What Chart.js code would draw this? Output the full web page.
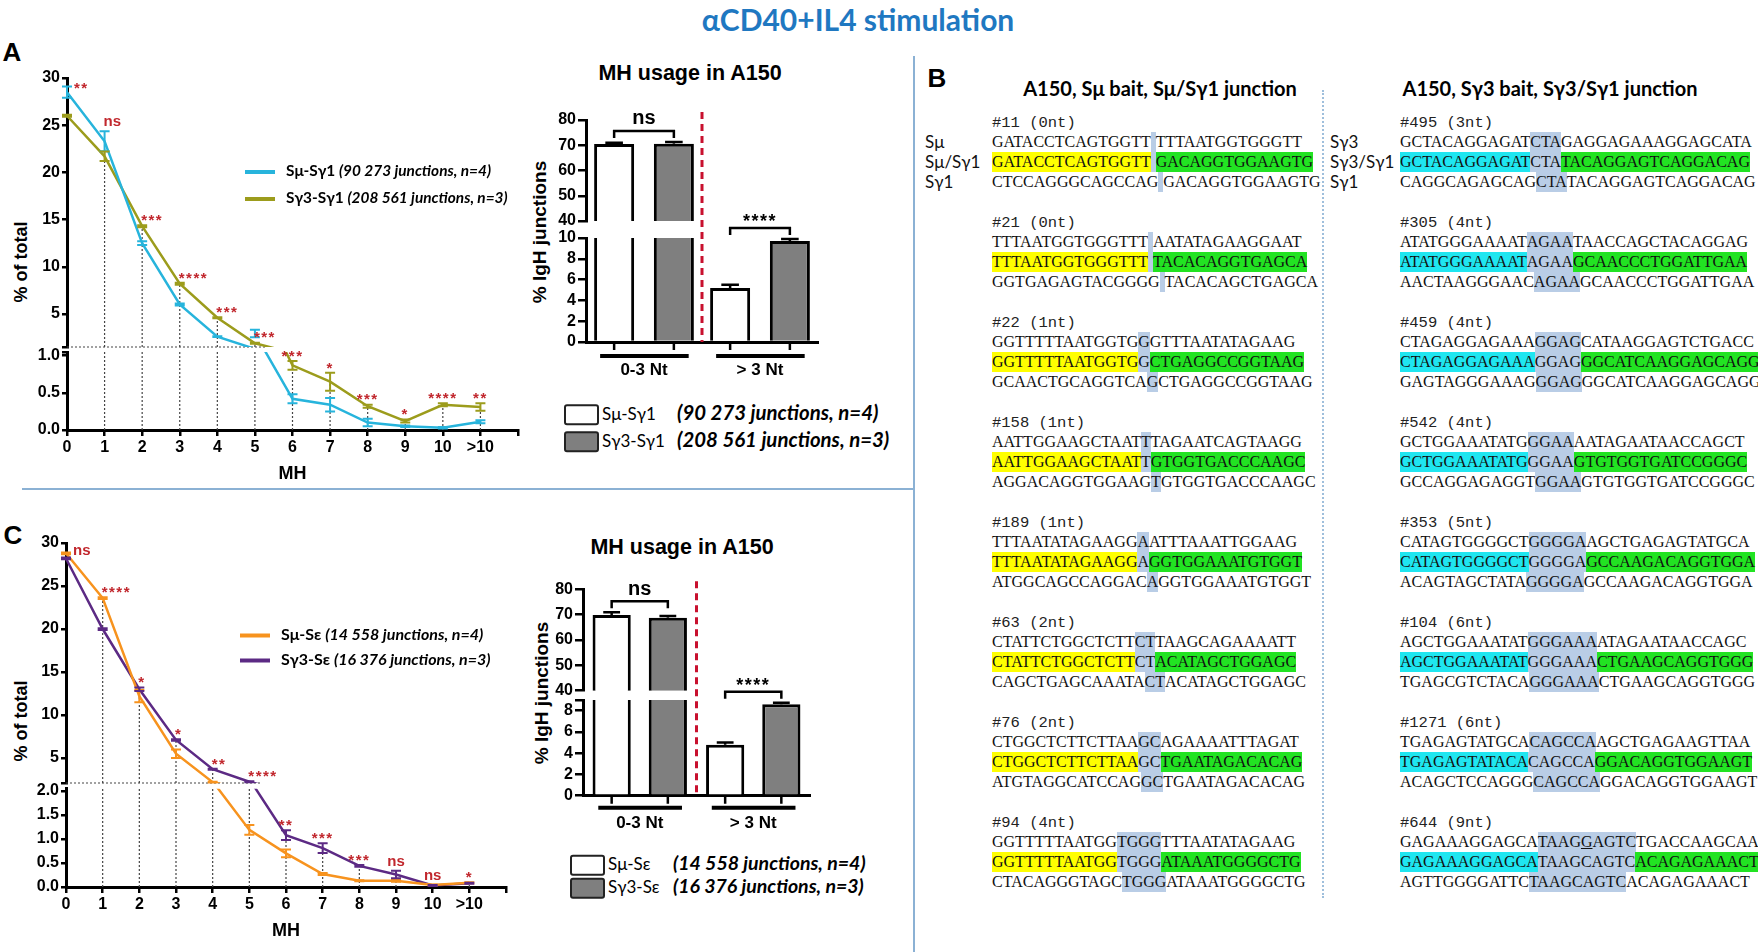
<!DOCTYPE html>
<html>
<head>
<meta charset="utf-8">
<title>MH usage in A150</title>
<script src="https://cdn.jsdelivr.net/npm/chart.js@4.4.1/dist/chart.umd.min.js"></script>
<style>
  body { margin: 0; background: #fff; }
  #page { position: relative; width: 1758px; height: 952px; overflow: hidden; font-family: 'Liberation Sans', Arial, sans-serif; color: #000; }
  .t { position: absolute; white-space: nowrap; transform: translate(-50%, -50%); }
  .tl { position: absolute; white-space: nowrap; transform: translate(0, -50%); }
  .rot { transform: translate(-50%, -50%) rotate(-90deg); }
  canvas { position: absolute; }
  .rule { position: absolute; background: #8bb1d4; }
  .blk { position: absolute; }
  .hd { font-family: 'Liberation Mono', monospace; font-size: 15.5px; height: 18px; line-height: 18px; color: #222; white-space: nowrap; }
  .rw { position: relative; height: 20px; line-height: 20px; font-family: 'Liberation Serif', serif; font-size: 16px; color: #111; white-space: nowrap; }
  .rw > span { display: inline-block; height: 20px; vertical-align: top; }
  .lab { position: absolute; top: 0; font-family: Lato, sans-serif; font-size: 17px; line-height: 20px; color: #111; }
  .mh { background: #b9cde6; }
  .mh0 { width: 5px; }
  .gr { background: #22e322; }
  .leg { font-family: Lato, sans-serif; font-weight: bold; }
  .sw { display: inline-block; vertical-align: middle; }
</style>
</head>
<body>
<div id="page">
  <div class="t" style="left:858px;top:19px;font-family:Lato,sans-serif;font-weight:bold;font-size:30px;color:#1f78c1">αCD40+IL4 stimulation</div>
  <div class="t" style="left:12px;top:52px;font-weight:bold;font-size:26px">A</div>
  <div class="t" style="left:937px;top:78px;font-weight:bold;font-size:26px">B</div>
  <div class="t" style="left:13px;top:535px;font-weight:bold;font-size:26px">C</div>
  <div class="t" style="left:690px;top:73px;font-weight:bold;font-size:21.5px">MH usage in A150</div>
  <div class="t" style="left:682px;top:547px;font-weight:bold;font-size:21.5px">MH usage in A150</div>
  <div class="t rot" style="left:21px;top:262px;font-weight:bold;font-size:18px">% of total</div>
  <div class="t rot" style="left:21px;top:721px;font-weight:bold;font-size:18px">% of total</div>
  <div class="t rot" style="left:540px;top:232px;font-weight:bold;font-size:19px">% IgH junctions</div>
  <div class="t rot" style="left:542px;top:693px;font-weight:bold;font-size:19px">% IgH junctions</div>
  <div class="t" style="left:1160px;top:88px;font-family:Lato,sans-serif;font-weight:bold;font-size:20px">A150, Sμ bait, Sμ/Sγ1 junction</div>
  <div class="t" style="left:1550px;top:88px;font-family:Lato,sans-serif;font-weight:bold;font-size:20px">A150, Sγ3 bait, Sγ3/Sγ1 junction</div>

  <div class="rule" style="left:22px;top:488px;width:892px;height:2px"></div>
  <div class="rule" style="left:913px;top:56px;width:2px;height:896px"></div>
  <div style="position:absolute;left:1322px;top:90px;height:808px;border-left:2px dotted #9fbfdc"></div>

  <canvas id="lineA" width="540" height="430" style="left:0;top:60px"></canvas>
  <canvas id="barA" width="320" height="290" style="left:520px;top:100px"></canvas>
  <canvas id="lineC" width="540" height="430" style="left:0;top:520px"></canvas>
  <canvas id="barC" width="310" height="270" style="left:520px;top:570px"></canvas>
</div>
<script>
// x categories (MH length in nt); the trailing '' is the axis end tick
const mhLabels = ['0', '1', '2', '3', '4', '5', '6', '7', '8', '9', '10', '>10', ''];

// Panel A: % of total junctions, Sμ-Sγ1 vs Sγ3-Sγ1
const muG1 = [28.5, 23.3, 12.5, 6.0, 2.6, 1.3, 0.42, 0.34, 0.10, 0.05, 0.03, 0.11];
const muG1Sem = [0.6, 1.05, 0.2, 0.1, 0.05, 0.05, 0.06, 0.09, 0.05, 0.01, 0.01, 0.02];
const g3G1 = [26.0, 21.7, 14.3, 8.2, 4.6, 1.9, 0.87, 0.65, 0.32, 0.12, 0.34, 0.31];
const g3G1Sem = [0.1, 0.5, 0.1, 0.1, 0.05, 0.05, 0.06, 0.12, 0.02, 0.02, 0.02, 0.05];
const sigA = ['**', 'ns', '***', '****', '***', '***', '***', '*', '***', '*', '****', '**'];

// Panel C: % of total junctions, Sμ-Sε vs Sγ3-Sε
const muE = [28.8, 23.6, 12.2, 5.5, 2.2, 1.19, 0.70, 0.27, 0.13, 0.13, 0.04, 0.09];
const muESem = [0.1, 0.1, 0.7, 0.5, 0.05, 0.1, 0.08, 0.02, 0.01, 0.02, 0.01, 0.01];
const g3E = [28.2, 20.0, 13.0, 7.1, 3.7, 2.25, 1.08, 0.81, 0.44, 0.26, 0.03, 0.08];
const g3ESem = [0.1, 0.1, 0.2, 0.1, 0.05, 0.05, 0.1, 0.1, 0.02, 0.08, 0.01, 0.01];
const sigC = ['ns', '****', '*', '*', '**', '****', '**', '***', '***', 'ns', 'ns', '*'];

// MH usage bars
const barLabels = ['0-3 Nt', '> 3 Nt'];
const barMuG1 = [70.5, 5.2];
const barMuG1Sem = [0.5, 0.3];
const barG3G1 = [70.6, 9.7];
const barG3G1Sem = [0.7, 0.2];
const sigBarA = ['ns', '****'];
const barMuE = [69.9, 4.8];
const barMuESem = [1.0, 0.2];
const barG3E = [68.8, 8.6];
const barG3ESem = [0.7, 0.15];
const sigBarC = ['ns', '****'];

// tick labels
const lineTicksTop = [5, 10, 15, 20, 25, 30];
const lineTicksLowA = [0, 0.5, 1.0];
const lineTicksLowC = [0, 0.5, 1.0, 1.5, 2.0];
const barTicksTop = [40, 50, 60, 70, 80];
const barTicksLowA = [0, 2, 4, 6, 8, 10];
const barTicksLowC = [0, 2, 4, 6, 8];

// legends
const legendG1 = [['Sμ-Sγ1', '(90 273 junctions, n=4)'], ['Sγ3-Sγ1', '(208 561 junctions, n=3)']];
const legendE = [['Sμ-Sε', '(14 558 junctions, n=4)'], ['Sγ3-Sε', '(16 376 junctions, n=3)']];

// Panel B junction sequences: left | microhomology | right
const muRowNames = ['Sμ', 'Sμ/Sγ1', 'Sγ1'];
const g3RowNames = ['Sγ3', 'Sγ3/Sγ1', 'Sγ1'];
const muJunctions = [
  ['#11 (0nt)', 'GATACCTCAGTGGTT||TTTAATGGTGGGTT', 'GATACCTCAGTGGTT||GACAGGTGGAAGTG', 'CTCCAGGGCAGCCAG||GACAGGTGGAAGTG'],
  ['#21 (0nt)', 'TTTAATGGTGGGTTT||AATATAGAAGGAAT', 'TTTAATGGTGGGTTT||TACACAGGTGAGCA', 'GGTGAGAGTACGGGG||TACACAGCTGAGCA'],
  ['#22 (1nt)', 'GGTTTTTAATGGTG|G|GTTTAATATAGAAG', 'GGTTTTTAATGGTG|G|CTGAGGCCGGTAAG', 'GCAACTGCAGGTCA|G|CTGAGGCCGGTAAG'],
  ['#158 (1nt)', 'AATTGGAAGCTAAT|T|TAGAATCAGTAAGG', 'AATTGGAAGCTAAT|T|GTGGTGACCCAAGC', 'AGGACAGGTGGAAG|T|GTGGTGACCCAAGC'],
  ['#189 (1nt)', 'TTTAATATAGAAGG|A|ATTTAAATTGGAAG', 'TTTAATATAGAAGG|A|GGTGGAAATGTGGT', 'ATGGCAGCCAGGAC|A|GGTGGAAATGTGGT'],
  ['#63 (2nt)', 'CTATTCTGGCTCTT|CT|TAAGCAGAAAATT', 'CTATTCTGGCTCTT|CT|ACATAGCTGGAGC', 'CAGCTGAGCAAATA|CT|ACATAGCTGGAGC'],
  ['#76 (2nt)', 'CTGGCTCTTCTTAA|GC|AGAAAATTTAGAT', 'CTGGCTCTTCTTAA|GC|TGAATAGACACAG', 'ATGTAGGCATCCAG|GC|TGAATAGACACAG'],
  ['#94 (4nt)', 'GGTTTTTAATGG|TGGG|TTTAATATAGAAG', 'GGTTTTTAATGG|TGGG|ATAAATGGGGCTG', 'CTACAGGGTAGC|TGGG|ATAAATGGGGCTG']
];
const g3Junctions = [
  ['#495 (3nt)', 'GCTACAGGAGAT|CTA|GAGGAGAAAGGAGCATA', 'GCTACAGGAGAT|CTA|TACAGGAGTCAGGACAG', 'CAGGCAGAGCAG|CTA|TACAGGAGTCAGGACAG'],
  ['#305 (4nt)', 'ATATGGGAAAAT|AGAA|TAACCAGCTACAGGAG', 'ATATGGGAAAAT|AGAA|GCAACCCTGGATTGAA', 'AACTAAGGGAAC|AGAA|GCAACCCTGGATTGAA'],
  ['#459 (4nt)', 'CTAGAGGAGAAA|GGAG|CATAAGGAGTCTGACC', 'CTAGAGGAGAAA|GGAG|GGCATCAAGGAGCAGG', 'GAGTAGGGAAAG|GGAG|GGCATCAAGGAGCAGG'],
  ['#542 (4nt)', 'GCTGGAAATATG|GGAA|AATAGAATAACCAGCT', 'GCTGGAAATATG|GGAA|GTGTGGTGATCCGGGC', 'GCCAGGAGAGGT|GGAA|GTGTGGTGATCCGGGC'],
  ['#353 (5nt)', 'CATAGTGGGGCT|GGGGA|AGCTGAGAGTATGCA', 'CATAGTGGGGCT|GGGGA|GCCAAGACAGGTGGA', 'ACAGTAGCTATA|GGGGA|GCCAAGACAGGTGGA'],
  ['#104 (6nt)', 'AGCTGGAAATAT|GGGAAA|ATAGAATAACCAGC', 'AGCTGGAAATAT|GGGAAA|CTGAAGCAGGTGGG', 'TGAGCGTCTACA|GGGAAA|CTGAAGCAGGTGGG'],
  ['#1271 (6nt)', 'TGAGAGTATGCA|CAGCCA|AGCTGAGAAGTTAA', 'TGAGAGTATACA|CAGCCA|GGACAGGTGGAAGT', 'ACAGCTCCAGGG|CAGCCA|GGACAGGTGGAAGT'],
  ['#644 (9nt)', 'GAGAAAGGAGCA|TAAG_GAGTC|TGACCAAGCAA', 'GAGAAAGGAGCA|TAAGCAGTC|ACAGAGAAACT', 'AGTTGGGGATTC|TAAGCAGTC|ACAGAGAAACT']
];

const CYAN = '#27b4dc', OLIVE = '#9c9c1c', ORANGE = '#f7931e', PURPLE = '#5c2a84', GREY = '#7f7f7f';
const STAR_RED = '#c1272d';
const page = document.getElementById('page');

Chart.defaults.font.family = "'Liberation Sans', Arial, sans-serif";
Chart.defaults.color = '#000';

// keep each dataset inside the band of its own (broken) y axis
const scaleClip = {
  id: 'scaleClip',
  beforeDatasetDraw(chart, args) {
    const s = chart.scales[args.meta.yAxisID];
    const a = chart.chartArea;
    chart.ctx.save();
    chart.ctx.beginPath();
    chart.ctx.rect(a.left - 10, s.top, a.right - a.left + 20, s.bottom - s.top);
    chart.ctx.clip();
  },
  afterDatasetDraw(chart) {
    chart.ctx.restore();
  }
};

function drawSig(ctx, txt, x, yMid, align, size) {
  const stars = txt.indexOf('*') >= 0;
  ctx.font = 'bold ' + size + 'px "Liberation Sans", Arial, sans-serif';
  if ('letterSpacing' in ctx) ctx.letterSpacing = stars ? '1.5px' : '0px';
  ctx.textAlign = align;
  ctx.textBaseline = 'alphabetic';
  ctx.fillText(txt, x, yMid + (stars ? 0.58 : 0.27) * size);
  if ('letterSpacing' in ctx) ctx.letterSpacing = '0px';
}

// drop lines, break line, error bars and significance marks for the MH profiles
const lineDecor = {
  id: 'lineDecor',
  beforeDatasetsDraw(chart, args, opts) {
    const {ctx, chartArea: a, scales: {x, yTop, yBot}} = chart;
    const series = chart.data.datasets.filter(d => d.yAxisID === 'yTop');
    ctx.save();
    ctx.strokeStyle = '#444';
    ctx.lineWidth = 1.2;
    ctx.setLineDash([2, 2]);
    ctx.beginPath();
    for (let i = 1; i < series[0].data.length; i++) {
      const v = Math.max(...series.map(d => d.data[i]));
      const px = x.getPixelForValue(i);
      ctx.moveTo(px, yBot.bottom);
      ctx.lineTo(px, yBot.getPixelForValue(Math.min(v, yBot.max)));
      if (v > yTop.min) {
        ctx.moveTo(px, yTop.bottom);
        ctx.lineTo(px, yTop.getPixelForValue(v));
      }
    }
    ctx.moveTo(a.left, yTop.bottom);
    ctx.lineTo(x.getPixelForValue(opts.breakEnd), yTop.bottom);
    ctx.stroke();
    ctx.restore();
  },
  afterDatasetsDraw(chart, args, opts) {
    const {ctx, scales: {x, yTop, yBot}} = chart;
    ctx.save();
    chart.data.datasets.forEach(d => {
      const sc = chart.scales[d.yAxisID];
      ctx.strokeStyle = d.borderColor;
      ctx.lineWidth = 2;
      d.data.forEach((v, i) => {
        const e = d.sem[i];
        if (!e) return;
        if ((v > yTop.min ? 'yTop' : 'yBot') !== d.yAxisID) return;
        const px = x.getPixelForValue(i);
        const y1 = sc.getPixelForValue(v - e), y2 = sc.getPixelForValue(v + e);
        ctx.beginPath();
        ctx.moveTo(px, y1); ctx.lineTo(px, y2);
        ctx.moveTo(px - 5, y1); ctx.lineTo(px + 5, y1);
        ctx.moveTo(px - 5, y2); ctx.lineTo(px + 5, y2);
        ctx.stroke();
      });
    });
    const series = chart.data.datasets.filter(d => d.yAxisID === 'yTop');
    ctx.fillStyle = STAR_RED;
    opts.sig.forEach((txt, i) => {
      const top = Math.max(...series.map(d => d.data[i] + (d.sem[i] || 0)));
      const sc = top > yTop.min ? yTop : yBot;
      const py = sc.getPixelForValue(top);
      const px = x.getPixelForValue(i);
      if (i === 0) drawSig(ctx, txt, px + 7, py - 2, 'left', 15);
      else if (sc === yTop) drawSig(ctx, txt, px - 1, py - 9, 'left', 15);
      else drawSig(ctx, txt, px, py - 9, 'center', 15);
    });
    ctx.restore();
  }
};

// error bars, axis ticks under bars, group underline, divider and brackets
const barDecor = {
  id: 'barDecor',
  afterDatasetsDraw(chart, args, opts) {
    const {ctx, chartArea: a, scales: {x, yTop, yBot}} = chart;
    const ds = chart.data.datasets;
    const stacks = [...new Set(ds.map(d => d.stack))];
    const metaOf = (st, ax) => chart.getDatasetMeta(ds.findIndex(d => d.stack === st && d.yAxisID === ax));
    ctx.save();
    const mid = (x.getPixelForValue(0) + x.getPixelForValue(1)) / 2;
    ctx.strokeStyle = '#c8102e';
    ctx.lineWidth = 3;
    ctx.setLineDash([7, 5]);
    ctx.beginPath();
    ctx.moveTo(mid, a.top - 8);
    ctx.lineTo(mid, a.bottom);
    ctx.stroke();
    ctx.setLineDash([]);
    ctx.strokeStyle = '#000';
    ctx.fillStyle = '#000';
    opts.sig.forEach((txt, i) => {
      const marks = stacks.map(st => {
        const d = ds.find(dd => dd.stack === st);
        const v = d.data[i], e = d.sem[i];
        const sc = v > yTop.min ? yTop : yBot;
        const bar = metaOf(st, sc.id).data[i];
        const y0 = sc.getPixelForValue(v), y1 = sc.getPixelForValue(v + e);
        const cap = bar.width * 0.22;
        ctx.lineWidth = 2.5;
        ctx.beginPath();
        ctx.moveTo(bar.x, y0); ctx.lineTo(bar.x, y1);
        ctx.moveTo(bar.x - cap, y1); ctx.lineTo(bar.x + cap, y1);
        ctx.moveTo(bar.x, a.bottom); ctx.lineTo(bar.x, a.bottom + 8);
        ctx.stroke();
        return {x: bar.x, w: bar.width, top: y1};
      });
      ctx.lineWidth = 4;
      ctx.beginPath();
      ctx.moveTo(marks[0].x - marks[0].w * 0.35, a.bottom + opts.underline);
      ctx.lineTo(marks[1].x + marks[1].w * 0.37, a.bottom + opts.underline);
      ctx.stroke();
      const yb = Math.min(...marks.map(m => m.top)) - 11;
      ctx.lineWidth = 2.5;
      ctx.beginPath();
      ctx.moveTo(marks[0].x, yb + 7); ctx.lineTo(marks[0].x, yb);
      ctx.lineTo(marks[1].x, yb); ctx.lineTo(marks[1].x, yb + 7);
      ctx.stroke();
      const stars = txt.indexOf('*') >= 0;
      drawSig(ctx, txt, (marks[0].x + marks[1].x) / 2, yb - (stars ? 11 : 12), 'center', stars ? 18 : 20);
    });
    ctx.restore();
  }
};

function valueAxis(min, max, labelled, extra, weight, stackWeight, width, decimals, tickLen) {
  const all = labelled.concat(extra).sort((p, q) => p - q);
  return {
    type: 'linear', position: 'left', stack: 'v', stackWeight, weight, min, max,
    afterBuildTicks: s => { s.ticks = all.map(v => ({value: v})); },
    afterFit: s => { s.width = width; },
    grid: {display: true, drawOnChartArea: false, drawTicks: true, tickLength: tickLen, color: '#000', lineWidth: 2.5},
    border: {display: true, color: '#000', width: 3},
    ticks: {color: '#000', font: {size: 16, weight: 'bold'}, padding: 2, autoSkip: false,
      callback: v => labelled.includes(v) ? v.toFixed(decimals) : ''}
  };
}

function gapAxis(stackWeight, width) {
  return {
    type: 'linear', position: 'left', stack: 'v', stackWeight, weight: 2, min: 0, max: 1,
    grid: {display: false, drawTicks: false}, border: {display: false}, ticks: {display: false},
    afterFit: s => { s.width = width; }
  };
}

function makeLine(id, series, cfg) {
  const datasets = [];
  series.forEach(s => ['yTop', 'yBot'].forEach(ax => datasets.push({
    data: s.data, sem: s.sem, yAxisID: ax, borderColor: s.color, backgroundColor: s.color,
    borderWidth: 2.5, pointRadius: 0, tension: 0, fill: false
  })));
  return new Chart(document.getElementById(id), {
    type: 'line',
    data: {labels: mhLabels, datasets},
    plugins: [scaleClip, lineDecor],
    options: {
      responsive: false, animation: false, events: [],
      layout: {padding: cfg.pad},
      plugins: {legend: {display: false}, tooltip: {enabled: false}, lineDecor: {sig: cfg.sig, breakEnd: 5.3}},
      scales: {
        x: {
          type: 'category', offset: false,
          grid: {display: true, drawOnChartArea: false, drawTicks: true, tickLength: 6, color: '#000', lineWidth: 2.5, offset: false},
          border: {display: true, color: '#000', width: 3},
          ticks: {color: '#000', font: {size: 16, weight: 'bold'}, padding: 2, autoSkip: false, maxRotation: 0},
          title: {display: true, text: 'MH', color: '#000', font: {size: 18, weight: 'bold'}, padding: {top: 4, bottom: 0}},
          afterFit: s => { s.height = 55; }
        },
        yTop: valueAxis(cfg.topMin, 30, lineTicksTop, [cfg.topMin], 3, cfg.weights[0], cfg.yWidth, 0, 5),
        yGap: gapAxis(cfg.weights[1], cfg.yWidth),
        yBot: valueAxis(0, cfg.lowMax, cfg.lowTicks, cfg.lowExtra, 1, cfg.weights[2], cfg.yWidth, 1, 5)
      }
    }
  });
}

function makeBar(id, series, cfg) {
  const datasets = [];
  series.forEach((s, k) => ['yTop', 'yBot'].forEach(ax => datasets.push({
    data: s.data, sem: s.sem, yAxisID: ax, stack: 's' + k,
    backgroundColor: s.fill, borderColor: '#000', borderWidth: 3, borderSkipped: 'start',
    barPercentage: cfg.barPct, categoryPercentage: cfg.catPct
  })));
  return new Chart(document.getElementById(id), {
    type: 'bar',
    data: {labels: barLabels, datasets},
    plugins: [scaleClip, barDecor],
    options: {
      responsive: false, animation: false, events: [],
      layout: {padding: cfg.pad},
      plugins: {legend: {display: false}, tooltip: {enabled: false}, barDecor: {sig: cfg.sig, underline: cfg.underline}},
      scales: {
        x: {
          type: 'category', offset: true,
          grid: {display: false, drawTicks: false},
          border: {display: true, color: '#000', width: 3},
          ticks: {color: '#000', font: {size: 17, weight: 'bold'}, padding: cfg.labelPad, maxRotation: 0},
          afterFit: s => { s.height = cfg.xHeight; }
        },
        yTop: valueAxis(40, 80, barTicksTop, [], 3, cfg.weights[0], cfg.yWidth, 0, 8),
        yGap: gapAxis(cfg.weights[1], cfg.yWidth),
        yBot: valueAxis(0, cfg.lowMax, cfg.lowTicks, cfg.lowExtra, 1, cfg.weights[2], cfg.yWidth, 0, 8)
      }
    }
  });
}

makeLine('lineA', [
  {data: muG1, sem: muG1Sem, color: CYAN},
  {data: g3G1, sem: g3G1Sem, color: OLIVE}
], {pad: {left: 0, top: 18, right: 22, bottom: 5}, sig: sigA, topMin: 1.5, lowMax: 1.05,
  lowTicks: lineTicksLowA, lowExtra: [1.05], weights: [269, 5, 78], yWidth: 67});

makeLine('lineC', [
  {data: muE, sem: muESem, color: ORANGE},
  {data: g3E, sem: g3ESem, color: PURPLE}
], {pad: {left: 0, top: 23, right: 34, bottom: 8}, sig: sigC, topMin: 2.1, lowMax: 2.05,
  lowTicks: lineTicksLowC, lowExtra: [], weights: [240, 5.6, 98.4], yWidth: 66});

makeBar('barA', [
  {data: barMuG1, sem: barMuG1Sem, fill: '#ffffff'},
  {data: barG3G1, sem: barG3G1Sem, fill: GREY}
], {pad: {left: 0, top: 20, right: 22, bottom: 0}, sig: sigBarA, lowMax: 10, lowTicks: barTicksLowA, lowExtra: [],
  weights: [101, 17, 104], yWidth: 66, barPct: 0.67, catPct: 1.03, labelPad: 18, xHeight: 48, underline: 14});

makeBar('barC', [
  {data: barMuE, sem: barMuESem, fill: '#ffffff'},
  {data: barG3E, sem: barG3ESem, fill: GREY}
], {pad: {left: 0, top: 19.3, right: 20, bottom: 0}, sig: sigBarC, lowMax: 9, lowTicks: barTicksLowC, lowExtra: [9],
  weights: [101.4, 9.3, 95.7], yWidth: 63, barPct: 0.68, catPct: 0.99, labelPad: 17, xHeight: 44.3, underline: 12});

// HTML legends
function lineLegend(items, colors, left, top, pitch, size) {
  items.forEach((it, k) => {
    const div = document.createElement('div');
    div.className = 'tl leg';
    div.style.cssText += `left:${left}px;top:${top + k * pitch}px;font-size:${size}px`;
    div.innerHTML = `<span class="sw" style="width:30px;height:4px;background:${colors[k]};margin-right:11px"></span>` +
      `${it[0]} <i>${it[1]}</i>`;
    page.appendChild(div);
  });
}
function boxLegend(items, fills, left, top, pitch, nameWidth, size, nameSize) {
  items.forEach((it, k) => {
    const div = document.createElement('div');
    div.className = 'tl leg';
    div.style.cssText += `left:${left}px;top:${top + k * pitch}px;font-size:${size}px`;
    div.innerHTML = `<span class="sw" style="width:31px;height:17px;border:2px solid #222;border-radius:3px;background:${fills[k]};margin-right:3px"></span>` +
      `<span style="display:inline-block;width:${nameWidth}px;font-weight:normal;font-size:${nameSize}px">${it[0]}</span><i>${it[1]}</i>`;
    page.appendChild(div);
  });
}
lineLegend(legendG1, [CYAN, OLIVE], 245, 170, 27, 15.4);
lineLegend(legendE, [ORANGE, PURPLE], 240, 633, 25, 16);
boxLegend(legendG1, ['#fff', GREY], 564, 413, 27, 75, 20.4, 17);
boxLegend(legendE, ['#fff', GREY], 570, 863, 23, 65, 19.5, 17);

// Panel B sequences
function seqHtml(part) {
  return part.replace(/_(.)/g, '<u>$1</u>');
}
function rowHtml(str, bait) {
  const [l, m, r] = str.split('|');
  const mid = m ? `<span class="mh">${seqHtml(m)}</span>` : '<span class="mh mh0"></span>';
  if (!bait) return `<span>${seqHtml(l)}</span>${mid}<span>${seqHtml(r)}</span>`;
  return `<span style="background:${bait}">${seqHtml(l)}</span>${mid}<span class="gr">${seqHtml(r)}</span>`;
}
function junctionColumn(list, names, left, labOffset, bait) {
  list.forEach((j, k) => {
    let html = `<div class="hd">${j[0]}</div>`;
    for (let r = 0; r < 3; r++) {
      const lab = k === 0 ? `<div class="lab" style="left:${-labOffset}px">${names[r]}</div>` : '';
      html += `<div class="rw">${lab}${rowHtml(j[r + 1], r === 1 ? bait : null)}</div>`;
    }
    const div = document.createElement('div');
    div.className = 'blk';
    div.style.left = left + 'px';
    div.style.top = (114 + k * 100) + 'px';
    div.innerHTML = html;
    page.appendChild(div);
  });
}
junctionColumn(muJunctions, muRowNames, 992, 67, '#ffff00');
junctionColumn(g3Junctions, g3RowNames, 1400, 70, '#1fe6f0');
</script>
</body>
</html>
